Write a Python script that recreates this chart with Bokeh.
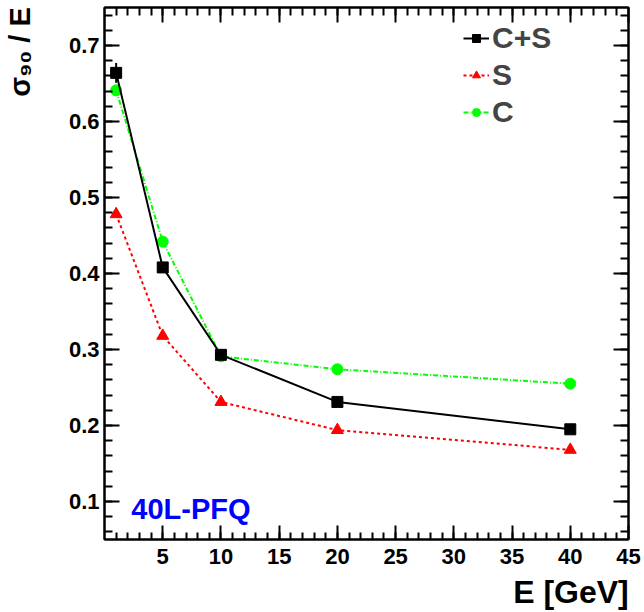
from bokeh.plotting import figure
from bokeh.models import (ColumnDataSource, FixedTicker, LinearAxis, Label,
                          Legend, LegendItem, CustomJSTickFormatter)
from bokeh.embed import file_html
from bokeh.resources import INLINE

# ---- data ----
energy = [1, 5, 10, 20, 40]
sigma_cs = [0.664, 0.408, 0.293, 0.231, 0.195]
sigma_cs_err = [0.013, 0.004, 0.003, 0.002, 0.002]
sigma_s = [0.478, 0.318, 0.231, 0.194, 0.168]
sigma_c = [0.641, 0.442, 0.291, 0.274, 0.255]

x_major = [5, 10, 15, 20, 25, 30, 35, 40, 45]
x_minor = list(range(1, 45))
y_major = [0.1, 0.2, 0.3, 0.4, 0.5, 0.6, 0.7]
y_minor = [round(0.06 + 0.02 * i, 2) for i in range(35)]

x_title = "E [GeV]"
y_title = "σ₉₀ / E"

FONT = "Liberation Sans"
NBSP = "\u00a0"

p = figure(width=644, height=612, x_range=(0, 45), y_range=(0.05, 0.75),
           output_backend="svg", toolbar_location=None, title=None,
           min_border_left=0, min_border_right=16, min_border_top=7,
           min_border_bottom=0)
p.xgrid.visible = False
p.ygrid.visible = False
p.outline_line_color = "black"
p.outline_line_width = 2
p.background_fill_color = "white"
p.border_fill_color = "white"


def style_axis(ax, major, minor, tick_in, minor_in, show_labels=True):
    ax.ticker = FixedTicker(ticks=major, minor_ticks=minor)
    ax.axis_line_color = "black"
    ax.axis_line_width = 2
    ax.major_tick_in = tick_in
    ax.major_tick_out = 0
    ax.minor_tick_in = minor_in
    ax.minor_tick_out = 0
    ax.major_tick_line_width = 2
    ax.minor_tick_line_width = 2
    ax.major_tick_line_color = "black"
    ax.minor_tick_line_color = "black"
    if show_labels:
        ax.major_label_text_font = FONT
        ax.major_label_text_font_style = "bold"
        ax.major_label_text_font_size = "22px"
        ax.major_label_text_color = "black"
        ax.axis_label_text_font = FONT
        ax.axis_label_text_font_style = "bold"
        ax.axis_label_text_color = "black"
    else:
        ax.formatter = CustomJSTickFormatter(code="return ''")
        ax.major_label_text_font_size = "1px"
        ax.major_label_standoff = 0


# axis titles sit at the far end of each axis (ROOT style); the centred
# label is led by no-break spaces so the visible text ends at the axis end.
xa = p.xaxis[0]
style_axis(xa, x_major, x_minor, 14, 7)
xa.major_label_standoff = 9
xa.axis_label = NBSP * 46 + x_title
xa.axis_label_text_font_size = "32px"
xa.axis_label_standoff = 7
xa.axis_label_align = "center"

ya = p.yaxis[0]
style_axis(ya, y_major, y_minor, 15, 8)
ya.major_label_standoff = 5
ya.axis_label = NBSP * 55 + y_title
ya.axis_label_text_font_size = "29px"
ya.axis_label_standoff = 30
ya.axis_label_align = "center"

top = LinearAxis()
style_axis(top, x_major, x_minor, 15, 8, show_labels=False)
p.add_layout(top, "above")
right = LinearAxis()
style_axis(right, y_major, y_minor, 15, 8, show_labels=False)
p.add_layout(right, "right")

src = ColumnDataSource(dict(
    e=energy, cs=sigma_cs, s=sigma_s, c=sigma_c,
    lo=[v - d for v, d in zip(sigma_cs, sigma_cs_err)],
    hi=[v + d for v, d in zip(sigma_cs, sigma_cs_err)],
))

# C (green)
lc = p.line("e", "c", source=src, line_color="#00ff00", line_width=2,
            line_dash="5 2 1 2")
mc = p.scatter("e", "c", source=src, marker="circle", size=11,
               fill_color="#00ff00", line_color="#00ff00")
# S (red)
ls = p.line("e", "s", source=src, line_color="#ff0000", line_width=2,
            line_dash="3 3")
ms = p.scatter("e", "s", source=src, marker="triangle", size=12,
               fill_color="#ff0000", line_color="#ff0000")
# C+S (black)
lcs = p.line("e", "cs", source=src, line_color="black", line_width=2)
p.segment(x0="e", y0="lo", x1="e", y1="hi", source=src, line_color="black",
          line_width=2)
mcs = p.scatter("e", "cs", source=src, marker="square", size=11,
                fill_color="black", line_color="black")

legend = Legend(items=[
    LegendItem(label="C+S", renderers=[lcs, mcs]),
    LegendItem(label="S", renderers=[ls, ms]),
    LegendItem(label="C", renderers=[lc, mc]),
], location=(359, 410))
legend.background_fill_alpha = 0
legend.border_line_alpha = 0
legend.label_text_font = FONT
legend.label_text_font_style = "bold"
legend.label_text_font_size = "30px"
legend.glyph_width = 26
legend.glyph_height = 20
legend.label_standoff = 3
legend.spacing = 3
legend.padding = 0
legend.margin = 0
p.add_layout(legend)

# panel tag
p.add_layout(Label(x=2.3, y=0.09, text="40L-PFQ", text_font=FONT,
                   text_font_style="bold", text_font_size="29px",
                   text_color="#0000ff", text_baseline="alphabetic"))

open("out.html", "w").write(file_html(p, INLINE))
